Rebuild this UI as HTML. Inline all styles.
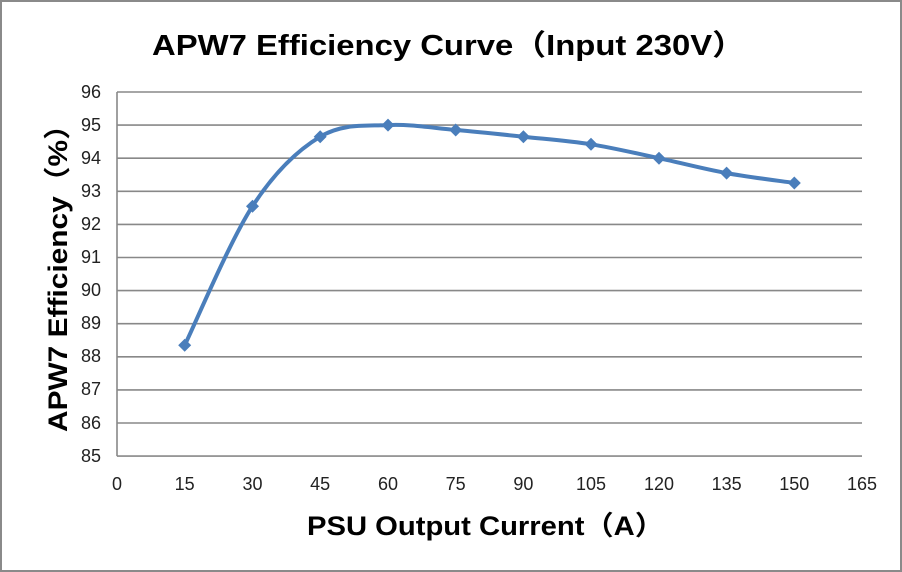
<!DOCTYPE html>
<html><head><meta charset="utf-8"><style>
html,body{margin:0;padding:0;background:#fff;}
svg{display:block;}
text{font-family:"Liberation Sans","Noto Sans CJK SC",sans-serif;}
</style></head><body>
<svg width="902" height="572" viewBox="0 0 902 572" xmlns="http://www.w3.org/2000/svg">
<rect x="1" y="1" width="900" height="570" fill="#fff" stroke="#8a8a8a" stroke-width="2"/>
<text x="152" y="55" font-size="29" font-weight="bold" fill="#000" textLength="593" lengthAdjust="spacingAndGlyphs">APW7 Efficiency Curve（Input 230V）</text>
<g stroke="#888" stroke-width="1.6">
<line x1="117" y1="92" x2="862" y2="92"/><line x1="117" y1="125.1" x2="862" y2="125.1"/>
<line x1="117" y1="158.2" x2="862" y2="158.2"/><line x1="117" y1="191.3" x2="862" y2="191.3"/>
<line x1="117" y1="224.4" x2="862" y2="224.4"/><line x1="117" y1="257.5" x2="862" y2="257.5"/>
<line x1="117" y1="290.6" x2="862" y2="290.6"/><line x1="117" y1="323.7" x2="862" y2="323.7"/>
<line x1="117" y1="356.8" x2="862" y2="356.8"/><line x1="117" y1="389.9" x2="862" y2="389.9"/>
<line x1="117" y1="423" x2="862" y2="423"/><line x1="117" y1="456.1" x2="862" y2="456.1"/>
<line x1="117" y1="92" x2="117" y2="456.1"/>
</g>
<g font-size="18" fill="#222" text-anchor="end">
<text x="101" y="98">96</text><text x="101" y="131">95</text><text x="101" y="164">94</text>
<text x="101" y="197">93</text><text x="101" y="230">92</text><text x="101" y="263">91</text>
<text x="101" y="296">90</text><text x="101" y="329">89</text><text x="101" y="362">88</text>
<text x="101" y="395">87</text><text x="101" y="429">86</text><text x="101" y="462">85</text>
</g>
<g font-size="18" fill="#222" text-anchor="middle">
<text x="117" y="490">0</text><text x="184.7" y="490">15</text><text x="252.5" y="490">30</text>
<text x="320.2" y="490">45</text><text x="388" y="490">60</text><text x="455.7" y="490">75</text>
<text x="523.4" y="490">90</text><text x="591" y="490">105</text><text x="659" y="490">120</text>
<text x="726.6" y="490">135</text><text x="794.3" y="490">150</text><text x="862" y="490">165</text>
</g>
<text x="307" y="535" font-size="27" font-weight="bold" textLength="357" lengthAdjust="spacingAndGlyphs">PSU Output Current（A）</text>
<text transform="translate(67,432) rotate(-90)" font-size="27" font-weight="bold" textLength="322" lengthAdjust="spacingAndGlyphs">APW7 Efficiency（%）</text>
<path fill="none" stroke="#4a7ebb" stroke-width="4" stroke-linecap="round" d="M184.7,345.2 C196,322 229.9,241 252.5,206.2 C275.1,171.5 297.6,150.2 320.2,136.7 C342.8,123.2 365.4,126.2 388,125.1 C410.6,124 433.1,128.1 455.7,130 C478.3,131.9 500.9,134.3 523.4,136.7 C545.95,139.1 568.4,140.7 591,144.3 C613.6,147.9 636.4,153.4 659,158.2 C681.6,163 704.05,169 726.6,173.1 C749.15,177.2 783,181.3 794.3,183"/>
<g fill="#4a7ebb">
<path d="M184.7,338.7 l6.5,6.5 l-6.5,6.5 l-6.5,-6.5z"/>
<path d="M252.5,199.7 l6.5,6.5 l-6.5,6.5 l-6.5,-6.5z"/>
<path d="M320.2,130.2 l6.5,6.5 l-6.5,6.5 l-6.5,-6.5z"/>
<path d="M388,118.6 l6.5,6.5 l-6.5,6.5 l-6.5,-6.5z"/>
<path d="M455.7,123.5 l6.5,6.5 l-6.5,6.5 l-6.5,-6.5z"/>
<path d="M523.4,130.2 l6.5,6.5 l-6.5,6.5 l-6.5,-6.5z"/>
<path d="M591,137.8 l6.5,6.5 l-6.5,6.5 l-6.5,-6.5z"/>
<path d="M659,151.7 l6.5,6.5 l-6.5,6.5 l-6.5,-6.5z"/>
<path d="M726.6,166.6 l6.5,6.5 l-6.5,6.5 l-6.5,-6.5z"/>
<path d="M794.3,176.5 l6.5,6.5 l-6.5,6.5 l-6.5,-6.5z"/>
</g>
</svg>
</body></html>
